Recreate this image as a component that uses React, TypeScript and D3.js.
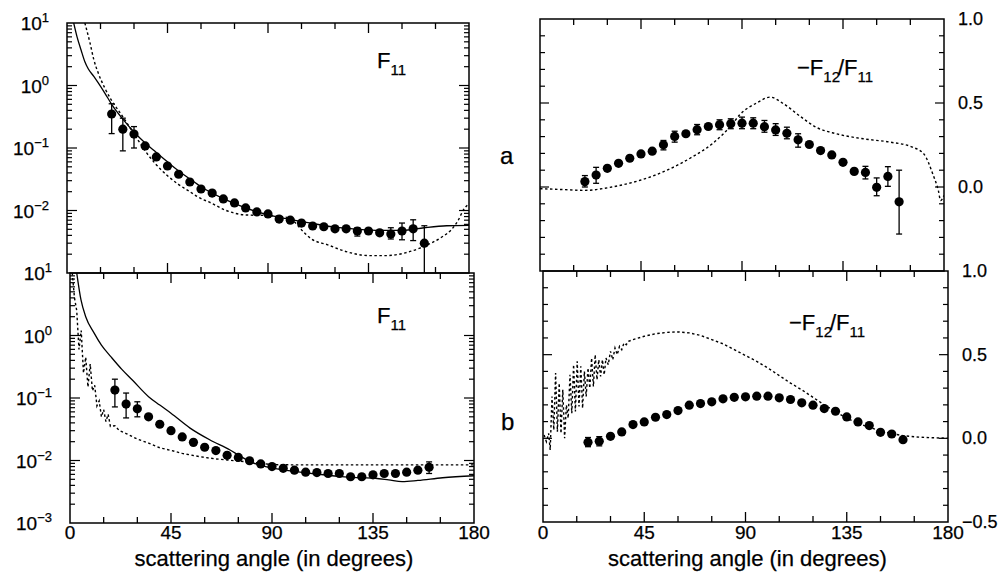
import React, { useEffect, useRef } from 'react';
import * as d3 from 'd3';

// measured angles (deg), same for all four panels
const pointAngles = [20, 25, 30, 35, 40, 45, 50, 55, 60, 65, 70, 75, 80, 85, 90, 95, 100, 105, 110, 115, 120, 125, 130, 135, 140, 145, 150, 155, 160];

// ---- a : F11 ----
const aF11 = [0.35, 0.2, 0.167, 0.108, 0.072, 0.0515, 0.038, 0.0286, 0.0221, 0.019, 0.0153, 0.0132, 0.011, 0.0095, 0.0088, 0.0073, 0.007, 0.0063, 0.00565, 0.0055, 0.0051, 0.0051, 0.0047, 0.0047, 0.0044, 0.0042, 0.0047, 0.0051, 0.003];
const aF11Lo = [0.17, 0.09, 0.1, null, null, null, null, null, null, null, null, null, null, null, null, null, null, null, null, null, null, null, 0.0039, null, null, 0.0035, 0.0034, 0.0033, 0.001];
const aF11Hi = [0.51, 0.3, 0.22, null, null, null, null, null, null, null, null, null, null, null, null, null, null, null, null, null, null, null, 0.0053, null, null, 0.0053, 0.0063, 0.0071, 0.0057];
const aF11SolidAngles = [3, 4.5, 6.3, 8, 9.5, 12, 14, 17, 20, 25, 30, 35, 40, 45, 50, 55, 60, 70, 80, 90, 100, 110, 120, 130, 140, 150, 160, 170, 180];
const aF11Solid = [10, 6, 3.7, 2.4, 1.85, 1.4, 1.1, 0.75, 0.5, 0.29, 0.18, 0.12, 0.085, 0.06, 0.043, 0.032, 0.024, 0.0155, 0.011, 0.0085, 0.0072, 0.0062, 0.0054, 0.005, 0.0048, 0.0048, 0.0053, 0.0057, 0.0058];
const aF11DotAngles = [8, 10.3, 12, 14, 17, 19.8, 23, 26, 29, 31.8, 35, 39.4, 45, 50, 55, 58.7, 64.5, 70.7, 79.7, 90, 99, 102, 105, 109, 117, 125, 135, 143, 151.5, 158, 163, 168, 172, 175, 177.5, 180];
const aF11Dot = [10, 4.8, 2.6, 1.58, 0.9, 0.59, 0.4, 0.28, 0.19, 0.134, 0.09, 0.057, 0.036, 0.026, 0.02, 0.0164, 0.0132, 0.0102, 0.0085, 0.0083, 0.0077, 0.0065, 0.0049, 0.0036, 0.0028, 0.0022, 0.0019, 0.0019, 0.0021, 0.0025, 0.003, 0.0038, 0.0049, 0.0068, 0.0102, 0.013];

// ---- a : -F12/F11 ----
const aPol = [0.032, 0.071, 0.111, 0.141, 0.171, 0.197, 0.213, 0.251, 0.301, 0.317, 0.341, 0.36, 0.371, 0.377, 0.38, 0.38, 0.359, 0.34, 0.32, 0.281, 0.253, 0.217, 0.191, 0.147, 0.093, 0.087, -0.002, 0.063, -0.088];
const aPolLo = [0.0, 0.022, null, null, null, null, null, 0.221, 0.267, null, 0.311, null, 0.341, 0.347, 0.347, 0.347, 0.326, 0.307, 0.287, 0.237, null, null, null, null, null, 0.048, -0.052, 0.004, -0.28];
const aPolHi = [0.068, 0.117, null, null, null, null, null, 0.277, 0.332, null, 0.372, null, 0.4, 0.406, 0.416, 0.412, 0.396, 0.377, 0.356, 0.317, null, null, null, null, null, 0.123, 0.054, 0.121, 0.1];
const aPolDotAngles = [0, 10, 20, 32, 44.6, 56.6, 68, 77, 86, 89, 96.5, 102.5, 108, 116, 123, 132, 144, 156, 166, 171, 175, 177.5, 178.5, 180];
const aPolDot = [-0.01, -0.015, -0.02, 0.0, 0.04, 0.1, 0.18, 0.26, 0.38, 0.43, 0.5, 0.535, 0.5, 0.42, 0.356, 0.317, 0.287, 0.267, 0.237, 0.197, 0.078, -0.022, -0.08, -0.05];

// ---- b : F11 ----
const bF11 = [0.134, 0.08, 0.067, 0.05, 0.038, 0.03, 0.0238, 0.0195, 0.0163, 0.0144, 0.0121, 0.0112, 0.0099, 0.0088, 0.008, 0.0075, 0.007, 0.0065, 0.0064, 0.0062, 0.0062, 0.0055, 0.0055, 0.0059, 0.0062, 0.0062, 0.0065, 0.007, 0.0078];
const bF11Lo = [0.072, 0.048, 0.05, null, null, null, null, null, null, null, null, null, null, null, null, null, null, null, null, null, null, null, null, null, null, null, null, null, 0.0062];
const bF11Hi = [0.2, 0.12, 0.087, null, null, null, null, null, null, null, null, null, null, null, null, null, null, null, null, null, null, null, null, null, null, null, null, null, 0.0095];
const bF11SolidAngles = [3, 4.9, 7, 10.7, 14, 18.4, 23, 28, 35, 40, 45, 53.5, 62.4, 71.3, 75.7, 80.2, 89, 95, 100, 106, 115, 121, 130, 136, 142, 148, 155, 166, 180];
const bF11Solid = [10, 3.7, 2.0, 1.1, 0.7, 0.45, 0.29, 0.19, 0.105, 0.077, 0.057, 0.033, 0.0213, 0.0147, 0.0118, 0.0096, 0.0077, 0.0071, 0.0067, 0.0063, 0.0058, 0.0055, 0.0053, 0.0052, 0.0049, 0.0046, 0.0048, 0.0053, 0.0057];
const bF11DotAngles = [1, 2, 3, 4, 5, 6, 7, 8, 9, 10, 11, 12, 13, 14, 15, 16, 17, 18, 20, 22, 25, 30, 35, 40, 45, 50, 55, 60, 65, 70, 75, 80, 85, 90, 100, 120, 140, 160, 180];
const bF11Dot = [10, 4, 2.5, 0.6, 1.2, 0.25, 0.45, 0.15, 0.35, 0.13, 0.16, 0.075, 0.09, 0.05, 0.065, 0.042, 0.055, 0.035, 0.036, 0.03, 0.027, 0.022, 0.019, 0.016, 0.0145, 0.013, 0.012, 0.0112, 0.0106, 0.0102, 0.0098, 0.0095, 0.009, 0.0086, 0.0085, 0.0085, 0.0085, 0.0085, 0.0085];

// ---- b : -F12/F11 ----
const bPol = [-0.024, -0.018, 0.012, 0.038, 0.082, 0.098, 0.126, 0.142, 0.166, 0.198, 0.208, 0.218, 0.236, 0.245, 0.248, 0.252, 0.252, 0.242, 0.232, 0.212, 0.198, 0.178, 0.162, 0.128, 0.098, 0.076, 0.036, 0.026, -0.008];
const bPolLo = [-0.05, -0.045, null, null, null, null, null, null, null, null, null, null, null, null, null, null, null, null, null, null, null, null, null, null, null, null, null, null, null];
const bPolHi = [0.005, 0.01, null, null, null, null, null, null, null, null, null, null, null, null, null, null, null, null, null, null, null, null, null, null, null, null, null, null, null];
const bPolDotAngles = [0.5, 1.5, 2.5, 3.2, 4, 4.8, 5.6, 6.4, 7.2, 8, 8.8, 9.6, 10.4, 11.2, 12, 12.8, 13.6, 14.4, 15.2, 16, 16.8, 17.6, 18.4, 19.2, 20, 20.8, 21.6, 22.4, 23.2, 24, 24.8, 25.6, 26.4, 27.2, 28, 29, 30, 31, 32, 33, 34, 35, 36, 37, 38, 40, 45, 50, 55, 60, 65, 70, 75, 80, 85, 90, 95, 100, 105, 110, 115, 120, 125, 130, 135, 140, 145, 150, 155, 160, 165, 170, 175, 180];
const bPolDot = [0.02, -0.02, 0.03, -0.07, 0.25, 0.05, 0.39, 0.04, 0.33, 0.03, 0.29, 0.0, 0.2, 0.12, 0.38, 0.15, 0.44, 0.16, 0.46, 0.19, 0.43, 0.18, 0.4, 0.25, 0.42, 0.3, 0.48, 0.31, 0.5, 0.35, 0.47, 0.37, 0.47, 0.38, 0.48, 0.44, 0.52, 0.47, 0.54, 0.5, 0.55, 0.53, 0.57, 0.56, 0.58, 0.59, 0.61, 0.625, 0.633, 0.636, 0.63, 0.615, 0.59, 0.565, 0.53, 0.495, 0.46, 0.42, 0.375, 0.33, 0.29, 0.245, 0.2, 0.16, 0.12, 0.09, 0.065, 0.045, 0.028, 0.016, 0.009, 0.005, 0.003, 0.0];

const xTickLabels = ['0', '45', '90', '135', '180'];
const logTickLabels = ['1', '0', '−1', '−2', '−3'];
const polTickLabels = ['1.0', '0.5', '0.0', '−0.5'];

const FONT = '"Liberation Sans", Arial, Helvetica, sans-serif';

type Box = { x0: number; x1: number; y0: number; y1: number };
type Curve = { a: number[]; v: number[]; dash: boolean; smooth: boolean };

const zip = (a: number[], b: number[]) => a.map((v, i) => [v, b[i]] as [number, number]);

const drawPanel = (svg: any, id: string, box: Box, log: boolean, pts: number[], lo: (number | null)[], hi: (number | null)[], curves: Curve[]) => {
  const x = d3.scaleLinear().domain([0, 180]).range([box.x0, box.x1]);
  const y = log
    ? d3.scaleLog().domain([1e-3, 10]).range([box.y1, box.y0])
    : d3.scaleLinear().domain([-0.5, 1.0]).range([box.y1, box.y0]);

  svg.append('clipPath').attr('id', id)
    .append('rect')
    .attr('x', box.x0).attr('y', box.y0)
    .attr('width', box.x1 - box.x0).attr('height', box.y1 - box.y0);

  const g = svg.append('g');

  // frame
  g.append('rect')
    .attr('x', box.x0).attr('y', box.y0)
    .attr('width', box.x1 - box.x0).attr('height', box.y1 - box.y0)
    .attr('fill', 'none').attr('stroke', '#000').attr('stroke-width', 1.5);

  // x ticks every 15, long at 45
  d3.range(15, 180, 15).forEach(a => {
    const len = a % 45 === 0 ? 10 : 6;
    [[box.y1, -len], [box.y0, len]].forEach(([yy, d]) => {
      g.append('line')
        .attr('x1', x(a)).attr('x2', x(a))
        .attr('y1', yy).attr('y2', yy + d)
        .attr('stroke', '#000').attr('stroke-width', 1.3);
    });
  });

  // y ticks
  const yTicks: [number, number][] = [];
  if (log) {
    for (let e = -3; e <= 0; e++) {
      for (let m = 1; m <= 9; m++) {
        const v = m * Math.pow(10, e);
        if (v <= 1e-3) continue;
        yTicks.push([v, m === 1 ? 10 : 5]);
      }
    }
  } else {
    for (let i = -4; i <= 9; i++) yTicks.push([i / 10, i % 5 === 0 ? 9 : 5]);
  }
  yTicks.forEach(([v, len]) => {
    [[box.x0, len], [box.x1, -len]].forEach(([xx, d]) => {
      g.append('line')
        .attr('x1', xx).attr('x2', xx + d)
        .attr('y1', y(v)).attr('y2', y(v))
        .attr('stroke', '#000').attr('stroke-width', 1.2);
    });
  });

  // model curves
  const cg = g.append('g').attr('clip-path', `url(#${id})`);
  curves.forEach(c => {
    const line = d3.line<[number, number]>()
      .x(d => x(d[0]))
      .y(d => y(d[1]))
      .curve(c.smooth ? d3.curveMonotoneX : d3.curveLinear);
    cg.append('path')
      .datum(zip(c.a, c.v))
      .attr('d', line)
      .attr('fill', 'none')
      .attr('stroke', '#000')
      .attr('stroke-width', c.dash ? 1.4 : 1.3)
      .attr('stroke-dasharray', c.dash ? '2.5,2.5' : null);
  });

  // error bars
  pointAngles.forEach((a, i) => {
    if (lo[i] == null || hi[i] == null) return;
    const yl = Math.min(y(lo[i] as number), box.y1);
    const yh = y(hi[i] as number);
    cg.append('line').attr('x1', x(a)).attr('x2', x(a)).attr('y1', yl).attr('y2', yh)
      .attr('stroke', '#000').attr('stroke-width', 1.3);
    [yl, yh].forEach(yy => {
      if (yy >= box.y1 - 0.5) return;
      cg.append('line').attr('x1', x(a) - 3).attr('x2', x(a) + 3).attr('y1', yy).attr('y2', yy)
        .attr('stroke', '#000').attr('stroke-width', 1.3);
    });
  });

  // measured points
  g.selectAll(null)
    .data(zip(pointAngles, pts))
    .enter()
    .append('circle')
    .attr('cx', (d: [number, number]) => x(d[0]))
    .attr('cy', (d: [number, number]) => y(d[1]))
    .attr('r', 4.6)
    .attr('fill', '#000');

  return { x, y };
};

const App = () => {
  const ref = useRef<SVGSVGElement>(null);

  useEffect(() => {
    const svg = d3.select(ref.current);
    svg.selectAll('*').remove();
    svg.append('rect').attr('width', 1005).attr('height', 579).attr('fill', '#fff');

    const boxTL: Box = { x0: 67, x1: 469, y0: 23, y1: 273 };
    const boxBL: Box = { x0: 70, x1: 474, y0: 273, y1: 523 };
    const boxTR: Box = { x0: 540, x1: 944, y0: 19, y1: 271 };
    const boxBR: Box = { x0: 543, x1: 948, y0: 271, y1: 522 };

    const tl = drawPanel(svg, 'cTL', boxTL, true, aF11, aF11Lo, aF11Hi, [
      { a: aF11SolidAngles, v: aF11Solid, dash: false, smooth: true },
      { a: aF11DotAngles, v: aF11Dot, dash: true, smooth: true },
    ]);
    const bl = drawPanel(svg, 'cBL', boxBL, true, bF11, bF11Lo, bF11Hi, [
      { a: bF11SolidAngles, v: bF11Solid, dash: false, smooth: true },
      { a: bF11DotAngles, v: bF11Dot, dash: true, smooth: false },
    ]);
    const tr = drawPanel(svg, 'cTR', boxTR, false, aPol, aPolLo, aPolHi, [
      { a: aPolDotAngles, v: aPolDot, dash: true, smooth: true },
    ]);
    const br = drawPanel(svg, 'cBR', boxBR, false, bPol, bPolLo, bPolHi, [
      { a: bPolDotAngles, v: bPolDot, dash: true, smooth: false },
    ]);

    const txt = svg.append('g')
      .attr('font-family', FONT)
      .attr('fill', '#000')
      .attr('stroke', '#000')
      .attr('stroke-width', 0.25);

    // log axis labels (top panel loses its 10^-3 to the lower panel's 10^1)
    const logDecades = [10, 1, 0.1, 0.01, 0.001];
    const addLog = (p: any, box: Box, n: number) => {
      logDecades.slice(0, n).forEach((v, i) => {
        const t = txt.append('text')
          .attr('x', box.x0 - 18).attr('y', p.y(v) + 7)
          .attr('text-anchor', 'end').attr('font-size', 19)
          .text('10');
        t.append('tspan').attr('dy', -8).attr('font-size', 13).text(logTickLabels[i]);
      });
    };
    addLog(tl, boxTL, 4);
    addLog(bl, boxBL, 5);

    // linear axis labels on the right
    const polValues = [1.0, 0.5, 0.0, -0.5];
    [tr, br].forEach((p: any, k) => {
      polValues.forEach((v, i) => {
        if (k === 0 && i === 3) return;
        txt.append('text')
          .attr('x', (k === 0 ? boxTR.x1 : boxBR.x1) + 14).attr('y', p.y(v) + 6)
          .attr('font-size', 18).text(polTickLabels[i]);
      });
    });

    // x tick labels + titles
    [[bl, boxBL], [br, boxBR]].forEach(([p, box]: any) => {
      [0, 45, 90, 135, 180].forEach((a, i) => {
        txt.append('text')
          .attr('x', p.x(a)).attr('y', 539)
          .attr('text-anchor', 'middle').attr('font-size', 19)
          .text(xTickLabels[i]);
      });
      txt.append('text')
        .attr('x', (box.x0 + box.x1) / 2 + 2).attr('y', 566)
        .attr('text-anchor', 'middle').attr('font-size', 22)
        .text('scattering angle (in degrees)');
    });

    // panel names
    const f11 = (xx: number, yy: number) => {
      const t = txt.append('text').attr('x', xx).attr('y', yy).attr('font-size', 22).text('F');
      t.append('tspan').attr('dy', 7).attr('font-size', 15).text('11');
    };
    f11(377, 68);
    f11(377, 323);

    const ratio = (xx: number, yy: number) => {
      const t = txt.append('text').attr('x', xx).attr('y', yy).attr('font-size', 22).text('−F');
      t.append('tspan').attr('dy', 7).attr('font-size', 15).text('12');
      t.append('tspan').attr('dy', -7).attr('dx', -2).attr('font-size', 22).text('/F');
      t.append('tspan').attr('dy', 7).attr('font-size', 15).text('11');
    };
    ratio(797, 75);
    ratio(789, 330);

    txt.append('text').attr('x', 500).attr('y', 164).attr('font-size', 24).text('a');
    txt.append('text').attr('x', 501).attr('y', 430).attr('font-size', 24).text('b');
  }, []);

  return (
    <svg
      ref={ref}
      width={1005}
      height={579}
      style={{ position: 'absolute', left: 0, top: 0, display: 'block' }}
    />
  );
};

export default App;
